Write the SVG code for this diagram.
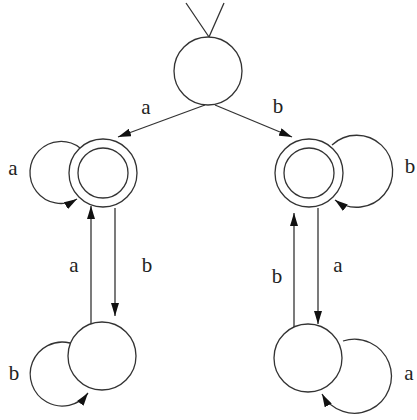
<svg xmlns="http://www.w3.org/2000/svg" width="417" height="420" viewBox="0 0 417 420">
<style>
.st{fill:#fff;stroke:#333;stroke-width:1.3}
.ed{fill:none;stroke:#333;stroke-width:1.3}
.lb{font-family:"Liberation Serif",serif;font-size:21px;fill:#222;text-anchor:middle}
</style>
<defs>
<marker id="ah" markerUnits="userSpaceOnUse" markerWidth="14" markerHeight="8" refX="13" refY="4" orient="auto">
<path d="M0,0 L13,4 L0,8 Z" fill="#111"/>
</marker>
</defs>
<g id="connectors">
<path class="ed" d="M186,3 L209,37 M224,3 L209,37"/>
<path class="ed" d="M205,105 L118,137" marker-end="url(#ah)"/>
<path class="ed" d="M215,105 L292,137" marker-end="url(#ah)"/>
<path class="ed" d="M80,148 A31 31 0 1 0 77,199" marker-end="url(#ah)"/>
<path class="ed" d="M332,145 A36 36 0 1 1 335,200" marker-end="url(#ah)"/>
<path class="ed" d="M70,343 A32 32 0 1 0 88,393" marker-end="url(#ah)"/>
<path class="ed" d="M343,341 A37 37 0 1 1 322,394" marker-end="url(#ah)"/>
<path class="ed" d="M91,333 L91,206" marker-end="url(#ah)"/>
<path class="ed" d="M115,208 L115,316" marker-end="url(#ah)"/>
<path class="ed" d="M294,327 L294,213" marker-end="url(#ah)"/>
<path class="ed" d="M318,208 L318,324" marker-end="url(#ah)"/>
<text class="lb" x="146" y="114">a</text>
<text class="lb" x="278" y="113">b</text>
<text class="lb" x="13" y="175">a</text>
<text class="lb" x="410" y="173">b</text>
<text class="lb" x="14" y="380">b</text>
<text class="lb" x="409" y="380">a</text>
<text class="lb" x="74" y="272">a</text>
<text class="lb" x="147" y="272">b</text>
<text class="lb" x="277" y="283">b</text>
<text class="lb" x="338" y="272">a</text>
</g>
<g id="s0"><circle class="st" cx="208" cy="71" r="34"/></g>
<g id="s1"><circle class="st" cx="103" cy="173" r="34"/><circle class="st" cx="103" cy="173" r="25"/></g>
<g id="s2"><circle class="st" cx="309" cy="173" r="34"/><circle class="st" cx="309" cy="173" r="25"/></g>
<g id="s3"><circle class="st" cx="102" cy="356" r="34"/></g>
<g id="s4"><circle class="st" cx="308" cy="358" r="34"/></g>
</svg>
